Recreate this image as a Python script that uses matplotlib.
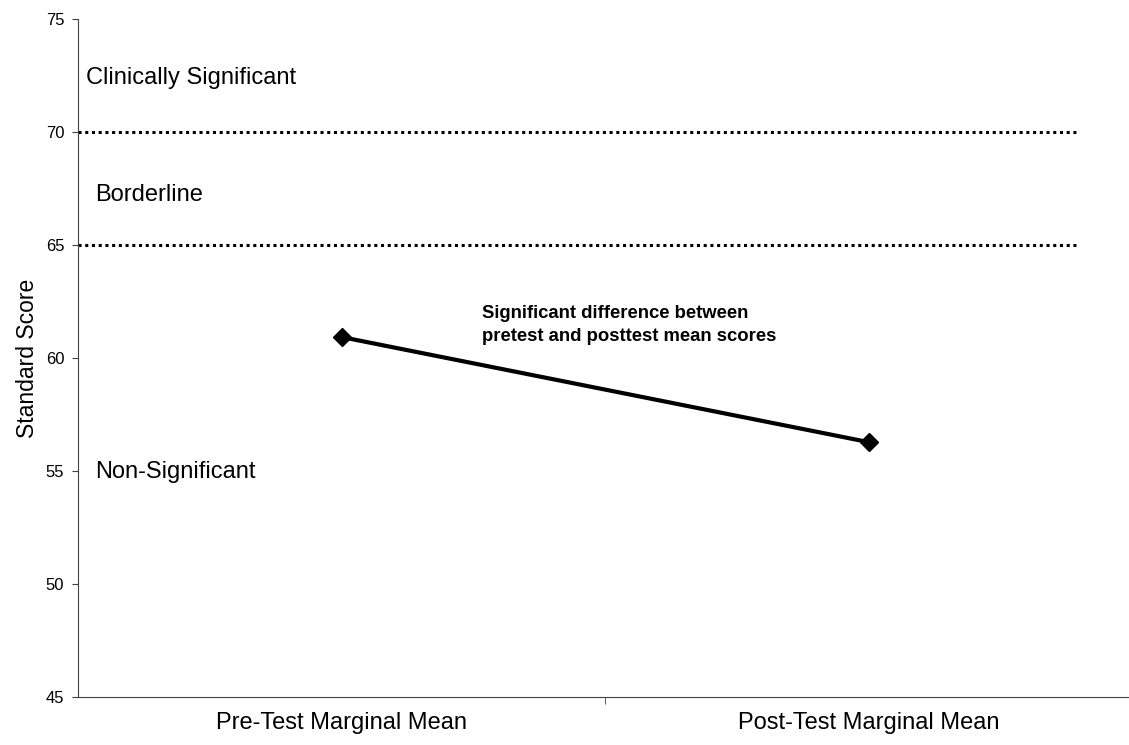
import matplotlib.pyplot as plt

plt.rcParams['font.family'] = ['Liberation Sans', 'DejaVu Sans']

# Data
categories = ['Pre-Test Marginal Mean', 'Post-Test Marginal Mean']
mean_scores = [60.93, 56.28]
thresholds = [70, 65]
zone_labels = ['Clinically Significant', 'Borderline', 'Non-Significant']
yticks = [45, 50, 55, 60, 65, 70, 75]

fig = plt.figure(figsize=(11.29, 7.45), dpi=100)
ax = fig.add_axes([0.0691, 0.0644, 0.9336, 0.910])

x = list(range(len(categories)))
ax.plot(x, mean_scores, color='black', linewidth=3, marker='D', markersize=9)

# threshold lines
for t in thresholds:
    ax.hlines(t, -0.5, 1.40, colors='black', linestyles=(0, (1, 1.2)), linewidth=2.2)

# zone labels
ax.text(-0.485, 72.4, zone_labels[0], fontsize=17, va='center', ha='left')
ax.text(-0.468, 67.2, zone_labels[1], fontsize=17, va='center', ha='left')
ax.text(-0.468, 54.95, zone_labels[2], fontsize=17, va='center', ha='left')

ax.text(0.266, 61.45, 'Significant difference between\npretest and posttest mean scores',
        fontsize=13.3, fontweight='bold', va='center', ha='left', linespacing=1.45)

ax.set_xlim(-0.5, 1.5)
ax.set_ylim(45, 75)
ax.set_yticks(yticks)
ax.tick_params(axis='y', labelsize=12, length=4, direction='out', color='#404040', pad=6)
ax.set_xticks(x)
ax.set_xticklabels(categories, fontsize=17)
ax.tick_params(axis='x', length=0, pad=11)
ax.set_xticks([0.5], minor=True)
ax.tick_params(axis='x', which='minor', length=5, color='#404040')
ax.set_ylabel('Standard Score', fontsize=16.5, labelpad=5)

for s in ['top', 'right']:
    ax.spines[s].set_visible(False)
for s in ['left', 'bottom']:
    ax.spines[s].set_color('#404040')

fig.savefig('out.png', dpi=100)
